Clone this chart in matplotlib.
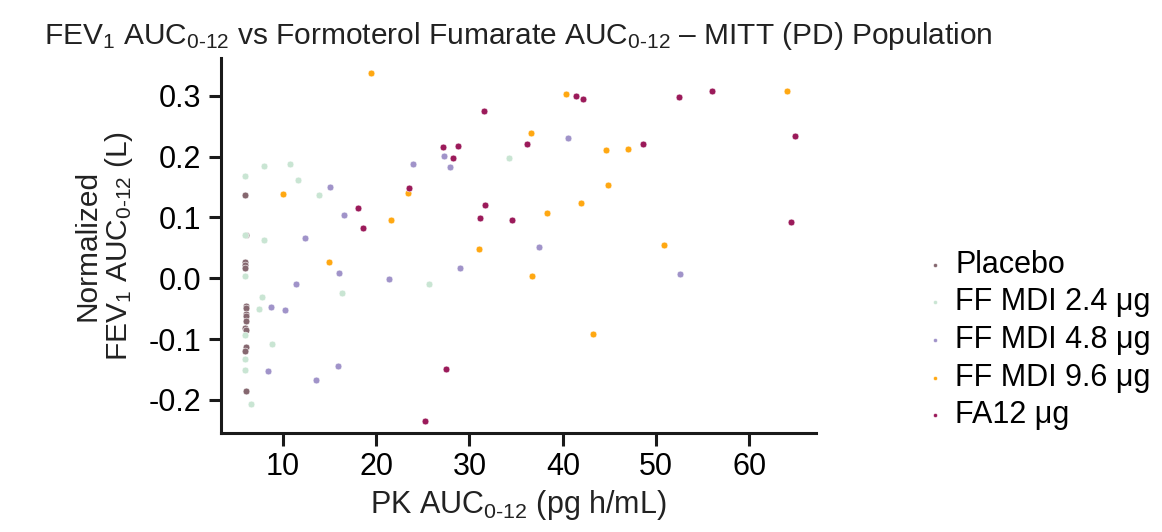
import matplotlib
matplotlib.use("Agg")
import matplotlib.pyplot as plt

plt.rcParams['font.family'] = ['Liberation Sans', 'DejaVu Sans']
plt.rcParams['mathtext.fontset'] = 'custom'
plt.rcParams['mathtext.rm'] = 'Liberation Sans'
plt.rcParams['mathtext.it'] = 'Liberation Sans:italic'
plt.rcParams['mathtext.default'] = 'regular'
plt.rcParams['axes.unicode_minus'] = False

# data (PK AUC in pg h/mL, normalized FEV1 AUC in L)
groups = ["Placebo", "FF MDI 2.4 μg", "FF MDI 4.8 μg", "FF MDI 9.6 μg", "FA12 μg"]
colors = ["#85676f", "#c9e5d3", "#a093c9", "#ffa812", "#9b1a5a"]

placebo_x = [5.96, 6.1, 5.96, 5.96, 5.9, 6.0, 6.0, 6.0, 6.0, 6.0, 5.9, 6.0, 6.0, 5.9, 6.0]
placebo_y = [0.136, 0.071, 0.026, 0.022, 0.017, -0.046, -0.049, -0.058, -0.062,
             -0.071, -0.082, -0.085, -0.113, -0.119, -0.186]

ff24_x = [8.0, 10.8, 5.9, 11.6, 13.9, 5.9, 8.0, 5.9, 16.3, 7.8, 7.4, 5.9, 8.8,
          5.9, 5.9, 6.6, 34.2, 25.7]
ff24_y = [0.185, 0.187, 0.168, 0.162, 0.136, 0.071, 0.062, 0.003, -0.024, -0.031,
          -0.050, -0.093, -0.108, -0.133, -0.151, -0.207, 0.198, -0.009]

ff48_x = [15.1, 23.9, 16.5, 12.4, 16.0, 11.4, 21.4, 8.7, 10.2, 8.4, 15.9, 13.6,
          40.6, 27.3, 27.9, 37.5, 29.0, 52.6]
ff48_y = [0.150, 0.187, 0.104, 0.066, 0.008, -0.009, -0.001, -0.047, -0.053,
          -0.152, -0.145, -0.167, 0.230, 0.201, 0.183, 0.051, 0.016, 0.007]

ff96_x = [19.5, 10.0, 23.4, 21.6, 14.9, 40.3, 36.6, 38.3, 41.9, 31.0, 36.7, 43.2,
          64.0, 44.6, 47.0, 44.8, 50.8]
ff96_y = [0.338, 0.139, 0.140, 0.095, 0.027, 0.303, 0.238, 0.108, 0.123, 0.048,
          0.003, -0.092, 0.307, 0.211, 0.213, 0.153, 0.055]

fa12_x = [23.5, 18.0, 18.6, 41.4, 42.2, 31.6, 27.2, 28.8, 36.2, 28.2, 31.7, 31.1,
          34.6, 27.5, 25.2, 52.5, 56.0, 48.6, 64.9, 64.5]
fa12_y = [0.149, 0.115, 0.083, 0.300, 0.294, 0.275, 0.216, 0.218, 0.220, 0.198,
          0.121, 0.099, 0.096, -0.149, -0.234, 0.298, 0.307, 0.220, 0.233, 0.093]

xs = [placebo_x, ff24_x, ff48_x, ff96_x, fa12_x]
ys = [placebo_y, ff24_y, ff48_y, ff96_y, fa12_y]

fig = plt.figure(figsize=(11.62, 5.32), dpi=100)
ax = fig.add_axes([0.19, 0.186, 0.512, 0.705])

for name, c, x, y in zip(groups, colors, xs, ys):
    ax.scatter(x, y, s=24, color=c, edgecolors='white', linewidths=0.4, label=name, zorder=3)

ax.set_xlim(3.35, 67.1)
ax.set_ylim(-0.2545, 0.362)
ax.set_xticks([10, 20, 30, 40, 50, 60])
ax.set_yticks([-0.2, -0.1, 0.0, 0.1, 0.2, 0.3])
ax.set_yticklabels(["-0.2", "-0.1", "0.0", "0.1", "0.2", "0.3"])

for side in ["top", "right"]:
    ax.spines[side].set_visible(False)
for side in ["left", "bottom"]:
    ax.spines[side].set_linewidth(2.2)
    ax.spines[side].set_color("#1a1a1a")
ax.tick_params(width=2.2, length=9, color="#1a1a1a", labelsize=22, pad=5)

ax.set_xlabel(r"PK AUC$_{\text{0-12}}$ (pg h/mL)", fontsize=22, labelpad=4, color="#222222")
ax.set_ylabel("Normalized\n" + r"FEV$_1$ AUC$_{\text{0-12}}$ (L)", fontsize=21.5,
              labelpad=10, color="#222222", linespacing=1.05)
ax.set_title(r"FEV$_1$ AUC$_{\text{0-12}}$ vs Formoterol Fumarate AUC$_{\text{0-12}}$ – MITT (PD) Population",
             fontsize=21.5, pad=10, color="#222222")

fig.legend(loc="center left", bbox_to_anchor=(0.768, 0.361), frameon=False, fontsize=22,
           markerscale=0.6, handletextpad=0.15, labelspacing=0.25, handlelength=1.0)

plt.savefig("out.png", dpi=100)
